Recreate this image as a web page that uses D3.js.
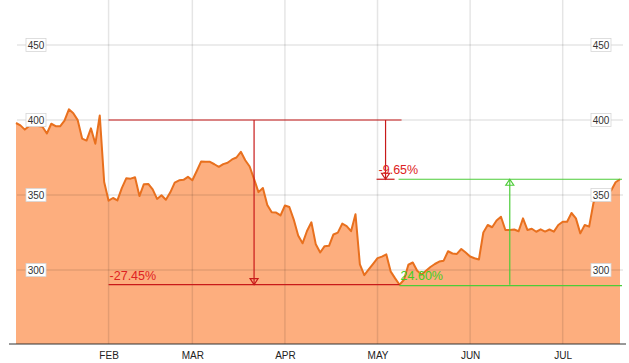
<!DOCTYPE html>
<html lang="en">
<head>
<meta charset="UTF-8">
<title>Price chart</title>
<script src="https://d3js.org/d3.v7.min.js"></script>
<style>
  body { margin: 0; background: #fff; }
  svg { display: block; font-family: "Liberation Sans", Arial, sans-serif; }
</style>
</head>
<body>
<script>
// trading days Jan 2 – Jul 21 2014
const holidays = ["2014-01-20", "2014-02-17", "2014-04-18", "2014-05-26", "2014-07-04"];
const dates = d3.utcDays(new Date("2014-01-02"), new Date("2014-07-22"))
  .filter(d => d.getUTCDay() % 6 !== 0)
  .map(d3.utcFormat("%Y-%m-%d"))
  .filter(d => !holidays.includes(d));

const values = [
  398.0, 396.4, 393.6, 396.0, 396.5, 396.0, 395.5, 391.0, 397.5, 395.9, 395.8, 399.6, 407.1, 404.5, 399.9, 387.6, 386.3, 394.4, 384.2, 403.0, 358.7,
  346.2, 348.0, 346.4, 354.6, 361.1, 360.9, 361.8, 349.3, 357.2, 357.4, 353.7, 347.4, 349.8, 346.8, 351.8, 358.3, 359.8, 360.1, 362.1,
  359.8, 366.0, 372.4, 372.2, 372.1, 370.5, 368.8, 370.6, 371.5, 373.7, 375.0, 378.8, 373.2, 369.0, 360.6, 351.9, 354.7, 343.4, 338.5, 338.3, 336.4,
  343.0, 342.0, 333.6, 323.0, 317.8, 326.0, 331.8, 317.1, 311.7, 315.9, 316.1, 323.7, 324.9, 330.9, 329.3, 325.9, 337.2, 303.8, 296.6, 300.4, 304.1,
  307.9, 308.9, 310.4, 298.9, 294.4, 290.2, 293.5, 303.5, 305.0, 299.5, 297.0, 299.5, 302.0, 304.0, 305.6, 306.2, 312.5, 311.0, 310.7, 314.0, 311.6,
  309.0, 307.8, 307.0, 325.0, 330.0, 328.5, 333.0, 335.5, 326.7, 326.7, 327.0, 325.8, 334.4, 326.7, 327.5, 325.5, 327.1, 325.6, 327.0, 325.6, 330.0,
  332.2, 332.2, 338.0, 334.4, 324.4, 330.0, 328.9, 345.0, 350.0, 348.0, 351.0, 353.0, 358.5, 360.5
];

const monthLabels = ["FEB", "MAR", "APR", "MAY", "JUN", "JUL"];
const yTicks = [300, 350, 400, 450];

const refLevel = 400;
const refStart = "2014-02-03";
const changeLabels = ["-27.45%", "-9.65%", "24.60%"];

const width = 629, height = 363;
const baseY = 344;

const data = dates.map((d, i) => ({ date: d, value: values[i] }));
const monthStarts = dates.filter((d, i) => i > 0 && d.slice(5, 7) !== dates[i - 1].slice(5, 7));

const x = d3.scalePoint().domain(dates).range([16, 620]);
const y = d3.scaleLinear().domain([300, 450]).range([270, 45]);

const svg = d3.select("body").append("svg")
  .attr("width", width)
  .attr("height", height);

// area + line
svg.append("path")
  .datum(data)
  .attr("fill", "#fdae7e")
  .attr("d", d3.area().x(d => x(d.date)).y0(baseY).y1(d => y(d.value)));

// grid
svg.append("g")
  .selectAll("line").data(yTicks).join("line")
  .attr("x1", 17).attr("x2", 623)
  .attr("y1", d => y(d)).attr("y2", d => y(d))
  .attr("stroke", "#000").attr("stroke-opacity", 0.1).attr("stroke-width", 1.5);

svg.append("g")
  .selectAll("line").data(monthStarts).join("line")
  .attr("x1", d => x(d)).attr("x2", d => x(d))
  .attr("y1", 0).attr("y2", baseY)
  .attr("stroke", "#000").attr("stroke-opacity", 0.1).attr("stroke-width", 1.5);

svg.append("path")
  .datum(data)
  .attr("fill", "none")
  .attr("stroke", "#e8701e")
  .attr("stroke-width", 2)
  .attr("stroke-linejoin", "round")
  .attr("d", d3.line().x(d => x(d.date)).y(d => y(d.value)));

// annotations
const lowIdx = d3.minIndex(values);
const lastIdx = values.length - 1;
const xs = x(refStart), xl = x(dates[lowIdx]), xe = x(dates[lastIdx]);
const yRef = y(refLevel), yLow = y(values[lowIdx]), yEnd = y(values[lastIdx]);
const red = "#c81a1a", green = "#4ccc38";

const ann = svg.append("g").attr("fill", "none").attr("stroke-width", 1.2);
const seg = (x1, y1, x2, y2, c) => ann.append("line")
  .attr("x1", x1).attr("y1", y1).attr("x2", x2).attr("y2", y2).attr("stroke", c);
const tri = (cx, cy, dir, c) => ann.append("path")
  .attr("d", `M${cx - 4},${cy - 6 * dir}L${cx + 4},${cy - 6 * dir}L${cx},${cy}Z`)
  .attr("stroke", c);

seg(xs, yRef, xl + 2, yRef, red);
seg(xs, yLow, xl, yLow, red);
const xm1 = (xs + xl) / 2;
seg(xm1, yRef, xm1, yLow, red);
tri(xm1, yLow, 1, red);

const xm2 = xl - 14;
seg(xm2, yRef, xm2, yEnd, red);
seg(xm2 - 9, yEnd, xm2 + 9, yEnd, red);
tri(xm2, yEnd, 1, red);

seg(xl, yLow + 1, xe + 2, yLow + 1, green);
seg(xl - 1, yEnd, xe + 2, yEnd, green);
const xm3 = (xl + xe) / 2;
seg(xm3, yLow, xm3, yEnd, green);
tri(xm3, yEnd, -1, green);

svg.append("text").attr("x", xs + 1).attr("y", yLow - 5)
  .attr("fill", "#dd2222").attr("font-size", 12.5).text(changeLabels[0]);
svg.append("text").attr("x", xm2 - 7).attr("y", yEnd - 5)
  .attr("fill", "#dd2222").attr("font-size", 12.5).text(changeLabels[1]);
svg.append("text").attr("x", xl + 1).attr("y", yLow - 5)
  .attr("fill", "#44cc22").attr("font-size", 12.5).text(changeLabels[2]);

// y labels, both sides
[36, 601].forEach(cx => {
  const g = svg.append("g").selectAll("g").data(yTicks).join("g")
    .attr("transform", d => `translate(${cx},${y(d)})`);
  g.append("rect")
    .attr("x", -10).attr("y", -6.5).attr("width", 20).attr("height", 13)
    .attr("fill", "#fff").attr("stroke", "#d6d6d6").attr("stroke-width", 0.8);
  g.append("text")
    .attr("text-anchor", "middle").attr("y", 3.6)
    .attr("font-size", 10).attr("fill", "#333")
    .text(d => d);
});

// x axis
const xAxis = svg.append("g")
  .attr("transform", `translate(0,${baseY})`)
  .call(d3.axisBottom(x).tickValues(monthStarts).tickSize(0).tickPadding(8)
    .tickFormat((d, i) => monthLabels[i]));
xAxis.select(".domain").remove();
xAxis.append("line").attr("x1", 9).attr("x2", 626).attr("stroke", "#333");
xAxis.selectAll("text")
  .attr("font-family", "'Liberation Sans Narrow', 'Liberation Sans', Arial, sans-serif")
  .attr("font-size", 10).attr("fill", "#222");
</script>
</body>
</html>
